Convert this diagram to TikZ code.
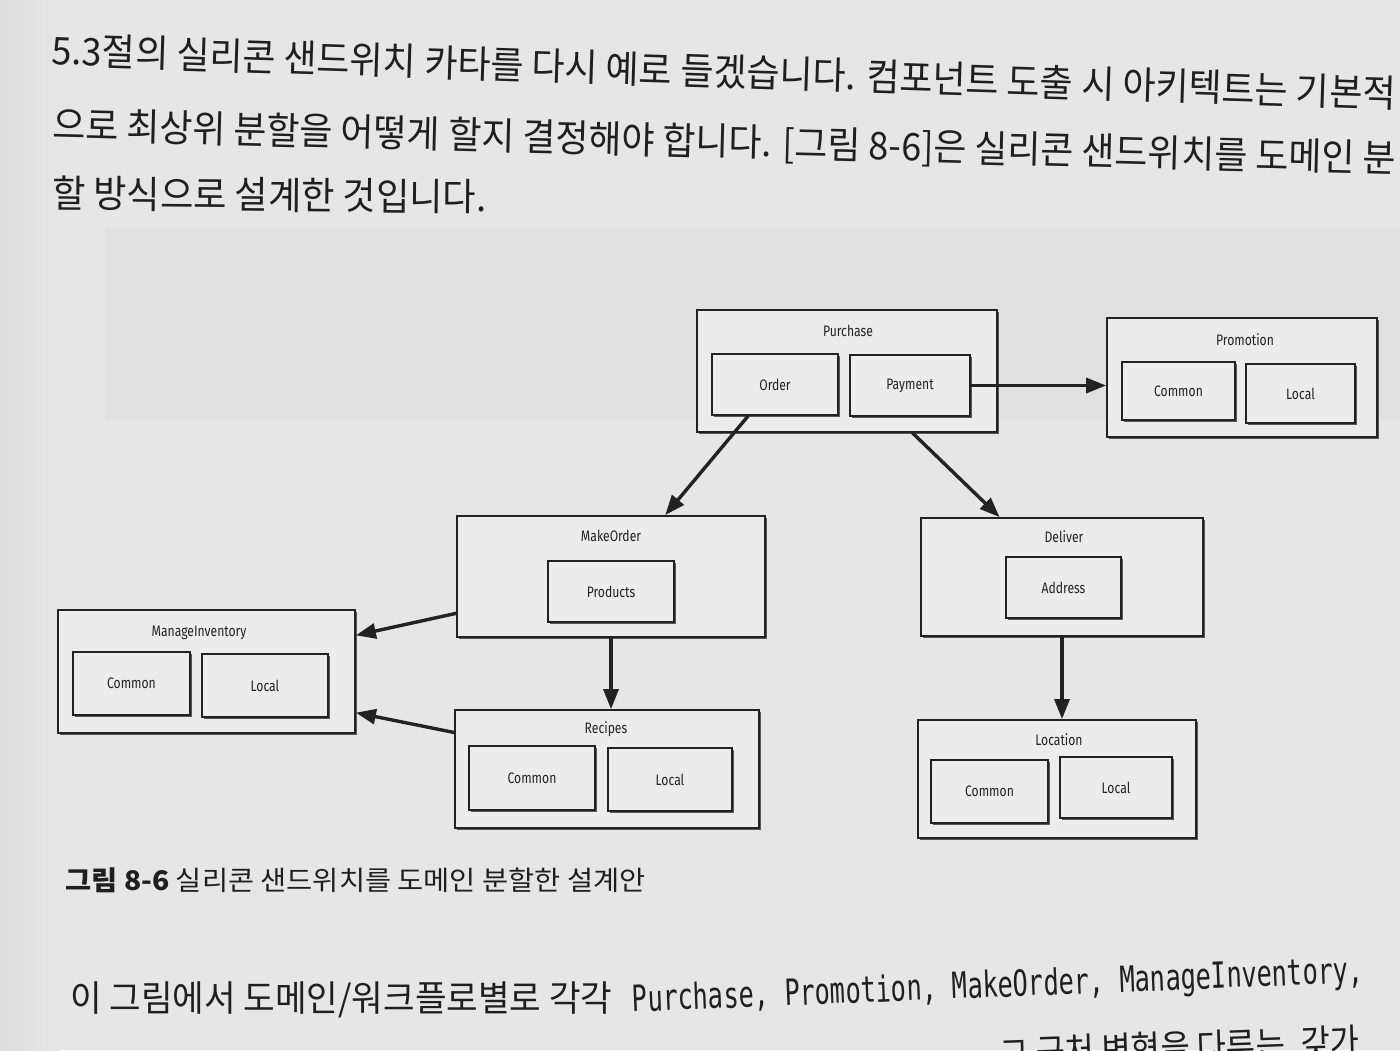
\documentclass[tikz,border=0pt]{standalone}
\usepackage{fontspec}
\usepackage{graphicx}
\setmainfont{Noto Sans CJK KR}
\newfontfamily\kr{Noto Sans CJK KR}
\newfontfamily\lab[FakeStretch=0.80]{Fira Sans}
\newfontfamily\mono{DejaVu Sans Mono}
\usetikzlibrary{calc,arrows.meta,shadows}
\definecolor{paper}{HTML}{E6E6E6}
\definecolor{paperdark}{HTML}{E1E1E1}
\definecolor{boxfill}{HTML}{ECECEC}
\definecolor{ink}{HTML}{222222}
\tikzset{
  gbox/.style={rectangle, draw=ink, line width=0.9pt, fill=boxfill, inner sep=0pt,
    drop shadow={shadow xshift=1.1pt, shadow yshift=-1.1pt, fill=black!65, opacity=1}},
  ttl/.style={font=\lab\fontsize{7.6pt}{8pt}\selectfont, text=ink, inner sep=0pt},
  arr/.style={draw=ink, line width=1.7pt, -{Triangle[length=10pt,width=7.5pt]}},
  body/.style={inner sep=0pt, text=black!88}
}
\newcommand\obox[5]{\node[gbox, minimum width=#4pt, minimum height=#5pt] (#1) at (#2,#3) {};}
\newcommand\ibox[6]{\node[gbox, minimum width=#4pt, minimum height=#5pt, font=\lab\fontsize{7.6pt}{8pt}\selectfont, text=ink] (#1) at (#2,#3) {#6};}
\begin{document}
\begin{tikzpicture}[x=0.5pt,y=-0.5pt]
\useasboundingbox (0,0) rectangle (1400,1050);
\fill[paper] (0,0) rectangle (1400,1050);
\shade[left color=black!13, right color=paper] (0,0) rectangle (60,1050);
% faint show-through from the other side of the page
\fill[paperdark] (105,228) rectangle (1400,420);

% body text
\node[body, anchor=west, rotate=-1.85] (l1) at (52,50)
  {\resizebox{672pt}{\height}{\kr\fontsize{19pt}{19pt}\selectfont 5.3절의 실리콘 샌드위치 카타를 다시 예로 들겠습니다. 컴포넌트 도출 시 아키텍트는 기본적}};
\node[body, anchor=west, rotate=-1.45] (l2) at (52,126)
  {\resizebox{672pt}{\height}{\kr\fontsize{19pt}{19pt}\selectfont 으로 최상위 분할을 어떻게 할지 결정해야 합니다. [그림 8-6]은 실리콘 샌드위치를 도메인 분}};
\node[body, anchor=west, rotate=-0.5] (l3) at (52,193)
  {\resizebox{217pt}{\height}{\kr\fontsize{19pt}{19pt}\selectfont 할 방식으로 설계한 것입니다.}};

% outer boxes
\obox{Purchase}{847}{371}{150}{61}
\obox{Promotion}{1242}{377.5}{135}{59.5}
\obox{MakeOrder}{611}{576.5}{154}{60.5}
\obox{Deliver}{1062}{577}{141}{59}
\obox{ManageInventory}{206.5}{671.5}{148.5}{61.5}
\obox{Recipes}{607}{769}{152}{59}
\obox{Location}{1057}{779}{139}{59}

% inner boxes
\ibox{Order}{775}{384.5}{63}{30.5}{Order}
\ibox{Payment}{910}{385.5}{60}{30.5}{Payment}
\ibox{PromCommon}{1178.5}{391}{56.5}{29}{Common}
\ibox{PromLocal}{1300.5}{393.5}{54.5}{29.5}{Local}
\ibox{Products}{611}{591.5}{63}{30.5}{Products}
\ibox{Address}{1063.5}{587.5}{57.5}{30.5}{Address}
\ibox{MICommon}{131.5}{683.5}{58.5}{31.5}{Common}
\ibox{MILocal}{265}{685.5}{63}{31.5}{Local}
\ibox{RecCommon}{532}{778}{63}{32}{Common}
\ibox{RecLocal}{670}{779.5}{62}{31.5}{Local}
\ibox{LocCommon}{989.5}{791.5}{58.5}{31.5}{Common}
\ibox{LocLocal}{1116}{787.5}{56}{30.5}{Local}

% titles
\node[ttl] (tPurchase) at (848,331) {Purchase};
\node[ttl] (tPromotion) at (1245,340) {Promotion};
\node[ttl] (tMakeOrder) at (611,536) {MakeOrder};
\node[ttl] (tDeliver) at (1064,537) {Deliver};
\node[ttl] (tManageInventory) at (199,633) {ManageInventory};
\node[ttl] (tRecipes) at (606,729) {Recipes};
\node[ttl] (tLocation) at (1059,740) {Location};

% connectors
\draw[arr] (Payment.east) -- (Payment.east -| Promotion.west);
\draw[arr] ($(Order.south west)!0.29!(Order.south east)$) -- ($(MakeOrder.north west)!0.675!(MakeOrder.north east)$);
\draw[arr] ($(Purchase.south west)!0.717!(Purchase.south east)$) -- ($(Deliver.north west)!0.28!(Deliver.north east)$);
\draw[arr] ($(MakeOrder.north west)!0.80!(MakeOrder.south west)$) -- ($(ManageInventory.north east)!0.21!(ManageInventory.south east)$);
\draw[arr] (MakeOrder.south) -- (MakeOrder.south |- Recipes.north);
\draw[arr] ($(Recipes.north west)!0.195!(Recipes.south west)$) -- ($(ManageInventory.north east)!0.83!(ManageInventory.south east)$);
\draw[arr] (Deliver.south) -- (Deliver.south |- Location.north);

% caption
\node[body, anchor=west] (cap) at (65,880)
  {\resizebox{290pt}{\height}{\kr\fontsize{13.5pt}{14pt}\selectfont{\bfseries 그림 8-6} 실리콘 샌드위치를 도메인 분할한 설계안}};

% following text
\node[body, anchor=west] (b1) at (70,1000)
  {\resizebox{271pt}{\height}{\kr\fontsize{18pt}{18pt}\selectfont 이 그림에서 도메인/워크플로별로 각각}};
\node[body, anchor=west, rotate=2.3] (b2) at (632,1002)
  {\resizebox{366pt}{\height}{\mono\fontsize{18pt}{18pt}\selectfont Purchase, Promotion, MakeOrder, ManageInventory,}};
\begin{scope}
\clip (0,0) rectangle (1400,1050);
\node[body, anchor=east, rotate=2] (b3) at (1360,1043)
  {\resizebox{180pt}{\height}{\kr\fontsize{18pt}{18pt}\selectfont 그 근처 변형을 다루는, 갖가}};
\end{scope}
\end{tikzpicture}
\end{document}
